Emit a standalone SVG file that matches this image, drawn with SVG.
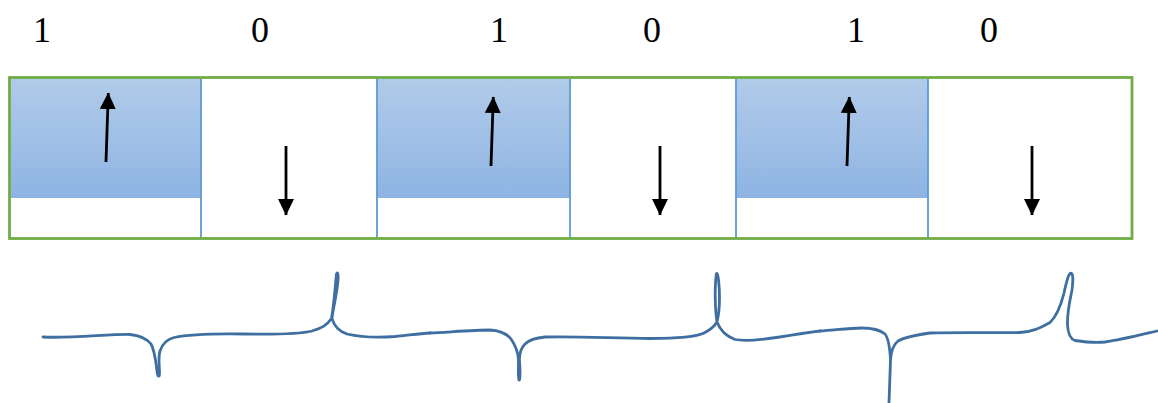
<svg xmlns="http://www.w3.org/2000/svg" width="1158" height="403" viewBox="0 0 1158 403">
  <defs>
    <linearGradient id="blueFill" x1="0" y1="0" x2="0" y2="1">
      <stop offset="0" stop-color="#B1CBE9"/>
      <stop offset="1" stop-color="#8EB4E3"/>
    </linearGradient>
    <marker id="head" markerUnits="userSpaceOnUse" markerWidth="17" markerHeight="17" viewBox="0 0 17 17" refX="16" refY="8.5" orient="auto">
      <path d="M0,0.5 L16.5,8.5 L0,16.5 z" fill="#000"/>
    </marker>
    <style>
      .fill { fill: url(#blueFill); stroke: none; }
      .divider { stroke: #5B9BD5; stroke-width: 1.8; fill: none; }
      .frame { fill: none; stroke: #70AD47; stroke-width: 2.8; }
      .arrow { stroke: #000; stroke-width: 2.8; fill: none; marker-end: url(#head); }
      .brace { fill: none; stroke: #3F6FA0; stroke-width: 2.8; stroke-linecap: round; stroke-linejoin: round; }
    </style>
  </defs>
  <rect width="1158" height="403" fill="#fff"/>

  <g id="labels" font-family="'Liberation Serif', 'Times New Roman', serif" font-size="36" fill="#000" text-anchor="middle">
    <text x="42" y="42">1</text>
    <text x="260" y="42">0</text>
    <text x="499" y="42">1</text>
    <text x="652" y="42">0</text>
    <text x="856" y="42">1</text>
    <text x="989" y="42">0</text>
  </g>

  <g id="cell1">
    <rect class="fill" x="10" y="78" width="191" height="120"/>
    <line class="arrow" x1="106" y1="162" x2="108.3" y2="93"/>
  </g>
  <g id="cell2">
    <line class="arrow" x1="286" y1="146" x2="286" y2="215"/>
  </g>
  <g id="cell3">
    <rect class="fill" x="377" y="78" width="193" height="120"/>
    <line class="arrow" x1="491" y1="166" x2="493.3" y2="97"/>
  </g>
  <g id="cell4">
    <line class="arrow" x1="660" y1="146" x2="660" y2="215"/>
  </g>
  <g id="cell5">
    <rect class="fill" x="736" y="78" width="192" height="120"/>
    <line class="arrow" x1="847" y1="166" x2="849.3" y2="97"/>
  </g>
  <g id="cell6">
    <line class="arrow" x1="1032" y1="146" x2="1032" y2="215"/>
  </g>

  <g id="frame">
    <line class="divider" x1="201" y1="78" x2="201" y2="238"/>
    <line class="divider" x1="377" y1="78" x2="377" y2="238"/>
    <line class="divider" x1="570" y1="78" x2="570" y2="238"/>
    <line class="divider" x1="736" y1="78" x2="736" y2="238"/>
    <line class="divider" x1="928" y1="78" x2="928" y2="238"/>
    <rect class="frame" x="9.5" y="77.5" width="1122.5" height="161"/>
  </g>

  <g id="connectors">
    <path class="brace" d="M43,337 C70,338.5 110,334 130,334.5 C140,335.5 147,339 151,344 C155,351 156,364 157,371 C157.5,377 159.5,378 159.5,373 C159.5,366 158,357 160,351 C162,345 166,339.5 174,337.5 C190,334 215,333.5 245,334 C275,334.5 300,334 312,331 C322,328 327,325 331.5,318.5 C334,305 335,288 336.5,274 C337.5,271 338.5,274 338,280 C337,295 333,308 332,318.5 C334,326 338,331 347,334 C360,337 375,338 395,336.5 C410,335 420,333.5 430,333"/>
    <path class="brace" d="M430,333 C450,332 475,330 490,330 C500,330.5 507,334 511,339 C516,346 518,352 518.5,360 C518.5,368 518,377 519,380 C520,381 520.5,372 519.5,362 C519,354 521,348 525,344 C529,340 535,338 545,337 C570,336 610,338 650,338.5 C680,338.5 696,337 704,333 C710,330 714,327 717,322 C715,310 714.5,285 716.5,273.5 C718,272 719.5,285 719.5,298 C719.5,310 718,318 717,322 C720,330 726,336 735,339.5 C745,341.5 760,340 780,337 C795,334.5 808,332.5 820,331"/>
    <path class="brace" d="M820,331 C835,330 850,328 862,328 C872,328 880,330 885,334 C889,339 890,350 890.5,360 C890,375 889.5,390 889,403 M890.5,360 C891,352 893,345 898,341 C905,337 915,335 930,333 C960,332 1000,333 1020,332.5 C1032,332 1040,328 1050,322.5 C1057,316 1061,305 1064,293 C1066,284 1067.5,276 1070,273.5 C1073,272 1073.5,278 1072,290 C1070,300 1067,312 1067.5,325 C1068,333 1070,339 1075,340.5 C1085,342 1095,343 1105,342 C1120,340 1140,335 1157,331"/>
  </g>
</svg>
